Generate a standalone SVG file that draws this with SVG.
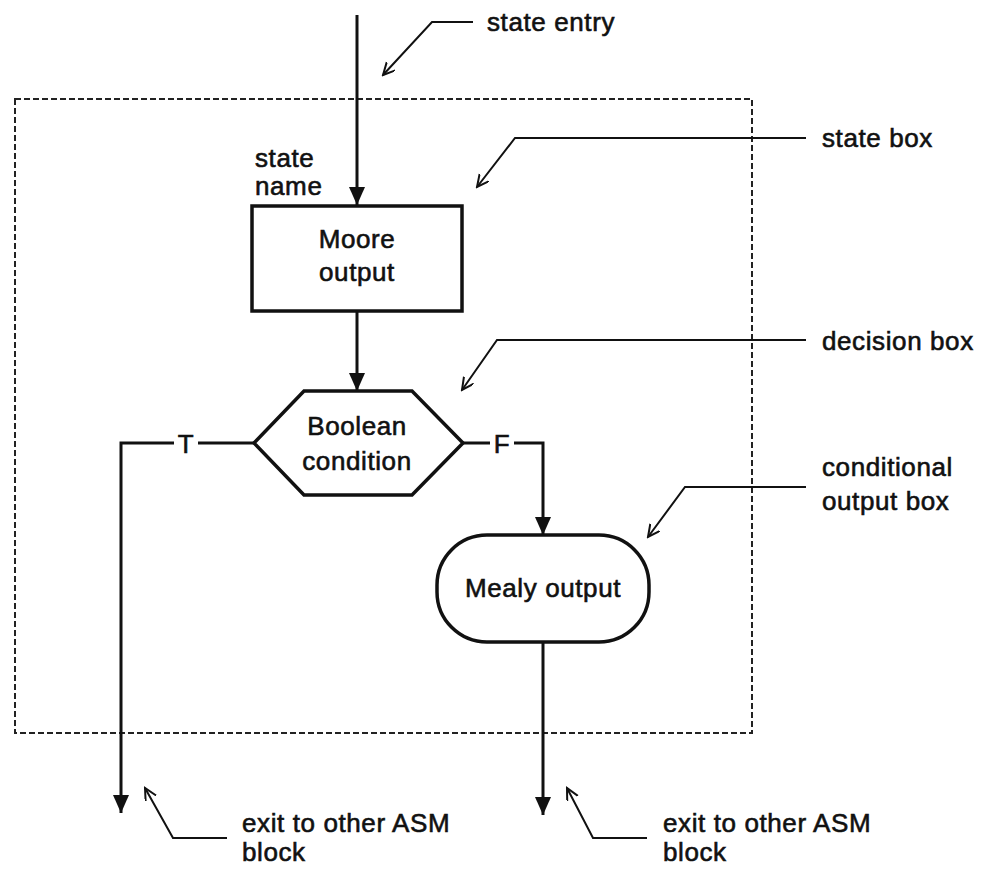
<svg xmlns="http://www.w3.org/2000/svg" width="990" height="869" viewBox="0 0 990 869">
<style>
text{font-family:"Liberation Sans",Arial,sans-serif;font-size:26px;letter-spacing:0.6px;fill:#111;stroke:#111;stroke-width:0.6}
.c{text-anchor:middle}
.shape{fill:#fff;stroke:#111;stroke-width:3.5}
.flow{fill:none;stroke:#111;stroke-width:3}
.call{fill:none;stroke:#111;stroke-width:2}
.frame{fill:none;stroke:#222;stroke-width:2;stroke-dasharray:6 3}
</style>
<defs>
<marker id="ah" markerUnits="userSpaceOnUse" markerWidth="18" markerHeight="20" refX="18" refY="8" orient="auto">
<path d="M0,0 L18,8 L0,16 Z" fill="#111"/>
</marker>
<marker id="oh" markerUnits="userSpaceOnUse" markerWidth="14" markerHeight="14" refX="12" refY="6" orient="auto">
<path d="M0,0 L12,6 L0,12" fill="none" stroke="#111" stroke-width="2"/>
</marker>
</defs>
<rect id="asm-block" class="frame" x="15" y="99" width="737" height="634"/>
<g id="connectors">
<line class="flow" x1="357" y1="15" x2="357" y2="205" marker-end="url(#ah)"/>
<line class="flow" x1="357" y1="311" x2="357" y2="391" marker-end="url(#ah)"/>
<polyline class="flow" points="254,443 121,443 121,813" marker-end="url(#ah)"/>
<polyline class="flow" points="463,443 543,443 543,535" marker-end="url(#ah)"/>
<line class="flow" x1="543" y1="642" x2="543" y2="815" marker-end="url(#ah)"/>
</g>
<g id="state-box">
<rect class="shape" x="252" y="206" width="210" height="105"/>
<text class="c" x="357" y="248">Moore</text>
<text class="c" x="357" y="281">output</text>
<text x="255" y="167">state</text>
<text x="255" y="195">name</text>
</g>
<g id="decision-box">
<polygon class="shape" points="254,443 304,391 412,391 463,443 412,495 304,495"/>
<text class="c" x="357" y="435">Boolean</text>
<text class="c" x="357" y="470">condition</text>
</g>
<g id="labels-TF">
<rect x="174" y="428" width="24" height="28" fill="#fff"/>
<text class="c" x="186" y="453">T</text>
<rect x="490" y="428" width="24" height="28" fill="#fff"/>
<text class="c" x="502" y="453">F</text>
</g>
<g id="conditional-output-box">
<rect class="shape" x="437" y="535" width="212" height="107" rx="50" ry="50"/>
<text class="c" x="543" y="597">Mealy output</text>
</g>
<g id="annotations">
<polyline class="call" points="473,22 432,22 383,75" marker-end="url(#oh)"/>
<text x="487" y="31">state entry</text>
<polyline class="call" points="806,138 515,138 477,187" marker-end="url(#oh)"/>
<text x="822" y="147">state box</text>
<polyline class="call" points="806,340 497,340 462,390" marker-end="url(#oh)"/>
<text x="822" y="350">decision box</text>
<polyline class="call" points="806,487 685,487 648,537" marker-end="url(#oh)"/>
<text x="822" y="476">conditional</text>
<text x="822" y="510">output box</text>
<polyline class="call" points="227,838 173,838 145,788" marker-end="url(#oh)"/>
<text x="242" y="832">exit to other ASM</text>
<text x="242" y="861">block</text>
<polyline class="call" points="647,838 593,838 567,788" marker-end="url(#oh)"/>
<text x="663" y="832">exit to other ASM</text>
<text x="663" y="861">block</text>
</g>
</svg>
